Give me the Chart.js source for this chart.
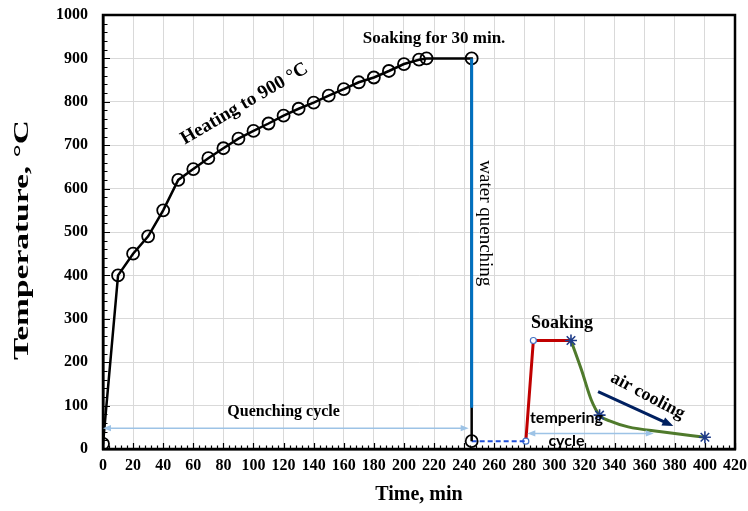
<!DOCTYPE html>
<html lang="en">
<head>
<meta charset="UTF-8">
<title>Quenching and tempering cycle</title>
<script src="https://cdn.jsdelivr.net/npm/chart.js"></script>
<style>
  body { margin: 0; background: #fff; }
  #wrap { width: 748px; height: 511px; }
</style>
</head>
<body>
<div id="wrap"><canvas id="chart"></canvas></div>
<script>
// heating to 900 C, soaking, then the quench (time in min, temperature in C)
const heatTime = [0, 10, 20, 30, 40, 50, 60, 70, 80, 90, 100, 110, 120, 130, 140, 150, 160, 170, 180, 190, 200, 210, 215, 245, 245];
const heatTemp = [12, 400, 450, 490, 550, 620, 645, 670, 693, 715, 733, 750, 768, 784, 798, 814, 829, 845, 856, 871, 887, 897, 900, 900, 18];

// water quench drop
const quenchTime = [245, 245];
const quenchTemp = [900, 95];

// waiting between quench and tempering
const holdTime = [245, 281];
const holdTemp = [18, 18];

// tempering: heat up and soak
const temperTime = [281, 286, 311];
const temperTemp = [18, 250, 250];

// air cooling after tempering
const coolTime = [311, 318, 324.5, 330, 338, 349, 371, 400];
const coolTemp = [250, 182, 113, 78, 63, 51, 40, 27];
const coolMarkAt = [311, 330, 400];

const serif = '"Liberation Serif", "Times New Roman", serif';

const toXY = (xs, ys) => xs.map((x, i) => ({ x: x, y: ys[i] }));

// text notes and arrows, placed in data units
const notes = [
    { text: 'Heating to 900 °C', t: 94, T: 795, rot: -30.5, font: 'bold 19px ' + serif },
    { text: 'Soaking for 30 min.', t: 220, T: 945, rot: 0, font: 'bold 17px ' + serif },
    { text: 'water quenching', t: 254, T: 520, rot: 90, font: '19px ' + serif },
    { text: 'Quenching cycle', t: 120, T: 85, rot: 0, font: 'bold 16px ' + serif },
    { text: 'Soaking', t: 305, T: 290, rot: 0, font: 'bold 18px ' + serif },
    { text: 'tempering', t: 308, T: 72, rot: 0, font: 'bold 16px Lato, sans-serif' },
    { text: 'cycle', t: 308, T: 19, rot: 0, font: 'bold 16px Lato, sans-serif' },
    { text: 'air cooling', t: 362, T: 122, rot: 28, font: 'bold 18px ' + serif }
];
const arrows = [
    { from: [0, 48], to: [243, 48], color: '#9dc3e6', width: 1.5, both: true, head: 8 },
    { from: [282, 36], to: [366, 36], color: '#9dc3e6', width: 1.5, both: true, head: 8 },
    { from: [329, 132], to: [379, 53], color: '#002060', width: 3, both: false, head: 11 }
];

function drawArrowHead(ctx, x, y, ang, size, color) {
    ctx.save();
    ctx.translate(x, y);
    ctx.rotate(ang);
    ctx.fillStyle = color;
    ctx.beginPath();
    ctx.moveTo(0, 0);
    ctx.lineTo(-size, -size * 0.4);
    ctx.lineTo(-size, size * 0.4);
    ctx.closePath();
    ctx.fill();
    ctx.restore();
}

const decor = {
    id: 'decor',
    beforeDatasetsDraw(chart) {
        const { ctx, chartArea: a, scales: { x, y } } = chart;
        ctx.save();
        // frame
        ctx.strokeStyle = '#000';
        ctx.lineWidth = 2.5;
        ctx.strokeRect(a.left, a.top, a.right - a.left, a.bottom - a.top);
        // inside tick marks
        ctx.lineWidth = 1.2;
        ctx.beginPath();
        for (let v = 0; v <= 420; v += 4) {
            const px = Math.round(x.getPixelForValue(v)) + 0.5;
            const len = v % 20 === 0 ? 6 : 3.5;
            ctx.moveTo(px, a.bottom);
            ctx.lineTo(px, a.bottom - len);
        }
        for (let v = 0; v <= 1000; v += 20) {
            const py = Math.round(y.getPixelForValue(v)) + 0.5;
            const len = v % 100 === 0 ? 7 : 4.5;
            ctx.moveTo(a.left, py);
            ctx.lineTo(a.left + len, py);
        }
        ctx.stroke();
        ctx.restore();
    },
    afterDatasetsDraw(chart) {
        const { ctx, chartArea: a, scales: { x, y } } = chart;
        ctx.save();
        arrows.forEach(ar => {
            const x1 = x.getPixelForValue(ar.from[0]), y1 = y.getPixelForValue(ar.from[1]);
            const x2 = x.getPixelForValue(ar.to[0]), y2 = y.getPixelForValue(ar.to[1]);
            const ang = Math.atan2(y2 - y1, x2 - x1);
            ctx.strokeStyle = ar.color;
            ctx.lineWidth = ar.width;
            ctx.beginPath();
            ctx.moveTo(x1 + (ar.both ? Math.cos(ang) * ar.head * 0.8 : 0), y1 + (ar.both ? Math.sin(ang) * ar.head * 0.8 : 0));
            ctx.lineTo(x2 - Math.cos(ang) * ar.head * 0.8, y2 - Math.sin(ang) * ar.head * 0.8);
            ctx.stroke();
            drawArrowHead(ctx, x2, y2, ang, ar.head, ar.color);
            if (ar.both) drawArrowHead(ctx, x1, y1, ang + Math.PI, ar.head, ar.color);
        });
        notes.forEach(n => {
            ctx.save();
            ctx.translate(x.getPixelForValue(n.t), y.getPixelForValue(n.T));
            ctx.rotate(n.rot * Math.PI / 180);
            ctx.font = n.font;
            ctx.fillStyle = '#000';
            ctx.textAlign = 'center';
            ctx.textBaseline = 'middle';
            ctx.fillText(n.text, 0, 0);
            ctx.restore();
        });

        // y axis title, stretched along its length like the original
        const yTitle = 'Temperature, °C';
        ctx.save();
        ctx.translate(23, 240);
        ctx.rotate(-Math.PI / 2);
        ctx.font = 'bold 21px ' + serif;
        const w = ctx.measureText(yTitle).width;
        ctx.scale(240 / w, 1);
        ctx.fillStyle = '#000';
        ctx.textAlign = 'center';
        ctx.textBaseline = 'middle';
        ctx.fillText(yTitle, 0, 0);
        ctx.restore();
        ctx.restore();
    }
};

const tickFont = { family: serif, size: 16, weight: 'bold' };
const titleFont = { family: serif, size: 20, weight: 'bold' };

new Chart(document.getElementById('chart'), {
    type: 'scatter',
    data: {
        datasets: [
            {
                data: toXY(quenchTime, quenchTemp),
                showLine: true,
                borderColor: '#0070c0',
                borderWidth: 3,
                pointRadius: 0
            },
            {
                data: toXY(heatTime, heatTemp),
                showLine: true,
                borderColor: '#000',
                borderWidth: 2.5,
                pointStyle: 'circle',
                pointRadius: 6,
                pointBorderWidth: 1.8,
                pointBorderColor: '#000',
                pointBackgroundColor: 'rgba(0,0,0,0)'
            },
            {
                data: toXY(holdTime, holdTemp),
                showLine: true,
                borderColor: '#1f4fd8',
                borderWidth: 2,
                borderDash: [5, 3],
                pointRadius: 0
            },
            {
                data: toXY(coolTime, coolTemp),
                showLine: true,
                borderColor: '#4f7a2c',
                borderWidth: 3,
                cubicInterpolationMode: 'monotone',
                pointStyle: 'star',
                pointRadius: ctx => coolMarkAt.includes(coolTime[ctx.dataIndex]) ? 6 : 0,
                pointBorderColor: '#1f3c88',
                pointBorderWidth: 1.6,
                pointBackgroundColor: '#1f3c88'
            },
            {
                data: toXY(temperTime, temperTemp),
                showLine: true,
                borderColor: '#c00000',
                borderWidth: 3,
                pointStyle: 'circle',
                pointRadius: ctx => ctx.dataIndex < 2 ? 3 : 0,
                pointBorderColor: '#4472c4',
                pointBorderWidth: 1.2,
                pointBackgroundColor: '#fff'
            }
        ]
    },
    options: {
        responsive: true,
        maintainAspectRatio: false,
        animation: false,
        layout: { padding: { left: 0, right: 13, top: 15, bottom: 0 } },
        plugins: { legend: { display: false }, tooltip: { enabled: false } },
        scales: {
            x: {
                type: 'linear',
                min: 0,
                max: 420,
                ticks: { stepSize: 20, color: '#000', font: tickFont, padding: 7, maxRotation: 0, autoSkip: false },
                grid: { color: '#d9d9d9', lineWidth: 1, drawTicks: false },
                border: { color: '#000', width: 2.5 },
                title: { display: true, text: 'Time, min', color: '#000', font: titleFont, padding: { top: 0, bottom: 4 } },
                afterFit: s => { s.height = 62; s.paddingLeft = 0; s.paddingRight = 0; }
            },
            y: {
                min: 0,
                max: 1000,
                ticks: { stepSize: 100, color: '#000', font: tickFont, padding: 15, callback: v => String(v) },
                grid: { color: '#d9d9d9', lineWidth: 1, drawTicks: false },
                border: { color: '#000', width: 2.5 },
                title: { display: false },
                afterFit: s => { s.width = 103; s.paddingTop = 0; s.paddingBottom = 0; }
            }
        }
    },
    plugins: [decor]
});
</script>
</body>
</html>
